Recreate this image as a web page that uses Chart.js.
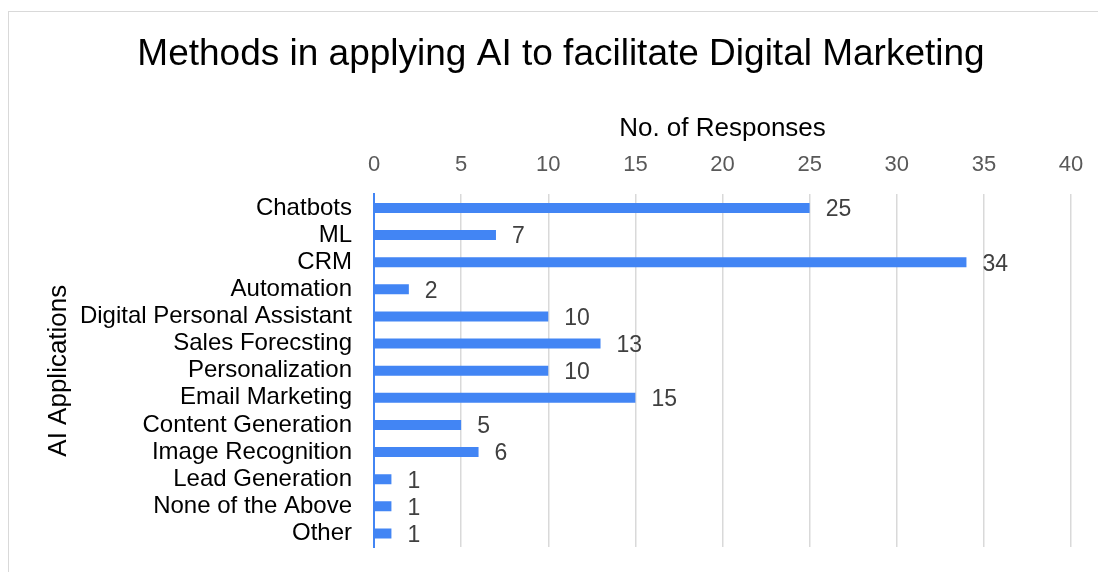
<!DOCTYPE html>
<html>
<head>
<meta charset="utf-8">
<script src="https://cdn.jsdelivr.net/npm/chart.js@4/dist/chart.umd.min.js"></script>
<style>
  html, body { margin: 0; padding: 0; background: #fff; }
  #wrap { position: relative; width: 1098px; height: 572px; overflow: hidden; }
  #frame { position: absolute; left: 8px; top: 11px; width: 1200px; height: 600px; border: 1px solid #d9d9d9; box-sizing: border-box; }
  canvas { position: absolute; left: 0; top: 0; }
</style>
</head>
<body>
<div id="wrap">
  <div id="frame"></div>
  <canvas id="aiChart" width="1098" height="572"></canvas>
</div>
<script>
const categories = [
    "Chatbots", "ML", "CRM", "Automation", "Digital Personal Assistant",
    "Sales Forecsting", "Personalization", "Email Marketing", "Content Generation",
    "Image Recognition", "Lead Generation", "None of the Above", "Other"
];
const responses = [25, 7, 34, 2, 10, 13, 10, 15, 5, 6, 1, 1, 1];

const blue = "#4285F4";
const fontFamily = "'Liberation Sans', Arial, sans-serif";

// value labels at the end of each bar
const barLabels = {
    id: "barLabels",
    afterDatasetsDraw(chart) {
        const ctx = chart.ctx;
        const meta = chart.getDatasetMeta(0);
        ctx.save();
        ctx.font = "23px " + fontFamily;
        ctx.fillStyle = "#404040";
        ctx.textAlign = "left";
        ctx.textBaseline = "middle";
        meta.data.forEach((bar, i) => {
            ctx.fillText(String(responses[i]), bar.x + 16, bar.y + 2);
        });
        ctx.restore();
    }
};

const ctx = document.getElementById("aiChart");

new Chart(ctx, {
    type: "bar",
    data: {
        labels: categories,
        datasets: [{
            data: responses,
            backgroundColor: blue,
            barPercentage: 0.37,
            categoryPercentage: 1.0
        }]
    },
    plugins: [barLabels],
    options: {
        indexAxis: "y",
        responsive: false,
        animation: false,
        layout: { padding: { left: 51, top: 10, right: 27, bottom: 25 } },
        plugins: {
            legend: { display: false },
            tooltip: { enabled: false },
            title: {
                display: true,
                text: "Methods in applying AI to facilitate Digital Marketing",
                color: "#000",
                font: { family: fontFamily, size: 37, weight: "normal" },
                padding: { top: 23, bottom: 27 }
            }
        },
        scales: {
            x: {
                position: "top",
                min: 0,
                max: 40,
                ticks: {
                    stepSize: 5,
                    color: "#595959",
                    padding: 16,
                    font: { family: fontFamily, size: 22 }
                },
                grid: { color: "#d9d9d9", lineWidth: 1.5, drawTicks: false },
                border: { display: false },
                title: {
                    display: true,
                    text: "No. of Responses",
                    color: "#000",
                    padding: { top: 9, bottom: 0 },
                    font: { family: fontFamily, size: 26 }
                },
                afterFit(scale) {
                    scale.height = 90;
                    scale.paddingLeft = 0;
                    scale.paddingRight = 0;
                }
            },
            y: {
                ticks: {
                    color: "#000",
                    padding: 22,
                    autoSkip: false,
                    font: { family: fontFamily, size: 24 }
                },
                grid: { display: false, drawTicks: false },
                border: { display: true, color: blue, width: 2 },
                title: {
                    display: true,
                    text: "AI Applications",
                    color: "#000",
                    padding: { top: -8, bottom: 0 },
                    font: { family: fontFamily, size: 26 }
                },
                afterFit(scale) {
                    scale.width = 323;
                    scale.paddingTop = 0;
                    scale.paddingBottom = 0;
                }
            }
        }
    }
});
</script>
</body>
</html>
